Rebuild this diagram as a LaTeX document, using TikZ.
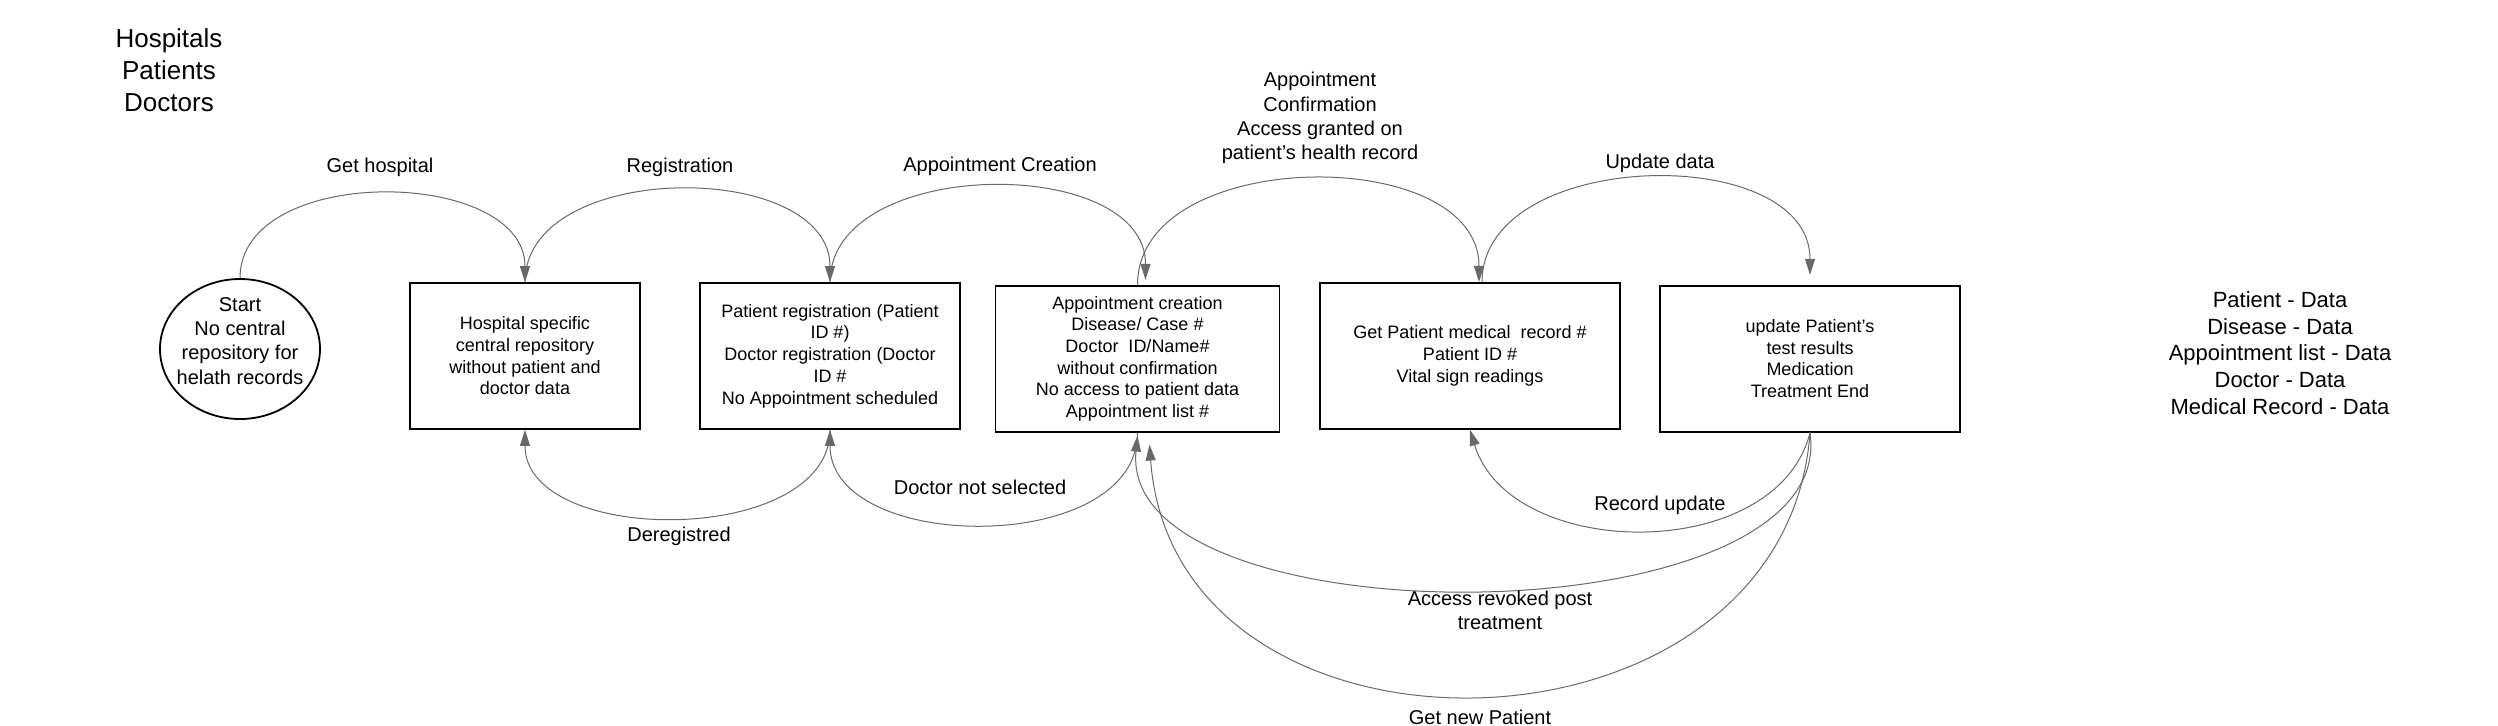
\documentclass[tikz,border=0pt]{standalone}
\usepackage{fontspec}
\setmainfont{Liberation Sans}
\usetikzlibrary{arrows.meta,shapes.geometric,calc}
\definecolor{linegray}{RGB}{105,105,105}
\begin{document}
\begin{tikzpicture}[x=0.5pt,y=-0.5pt,
  box/.style={draw=black, line width=0.9pt, inner sep=0pt, minimum height=73pt, align=center, font=\fontsize{9}{10.85}\selectfont},
  lbl/.style={align=center, inner sep=0pt, font=\fontsize{10}{12.1}\selectfont},
  conn/.style={draw=linegray, line width=0.5pt, -{Triangle[length=8pt,width=5pt]}}]
\useasboundingbox (0,0) rectangle (2498,725);

% header and legend
\node[align=center, inner sep=0pt, font=\fontsize{13}{16}\selectfont] (actors) at (169,70) {Hospitals\\Patients\\Doctors};
\node[align=center, inner sep=0pt, font=\fontsize{11}{13.3}\selectfont] (legend) at (2280,353) {Patient - Data\\Disease - Data\\Appointment list - Data\\Doctor - Data\\Medical Record - Data};

% nodes
\node[draw=black, ellipse, line width=0.9pt, minimum width=80pt, minimum height=70pt, inner sep=0pt] (e) at (240,349) {};
\node[lbl] (etext) at (240,341) {Start\\No central\\repository for\\helath records};
\node[box, minimum width=115pt] (b1) at (525,356) {Hospital specific\\central repository\\without patient and\\doctor data};
\node[box, minimum width=130pt] (b2) at (830,356) {Patient registration (Patient\\ID \#)\\Doctor registration (Doctor\\ID \#\\No Appointment scheduled};
\node[box, minimum width=142pt] (b3) at (1137.5,358.7) {Appointment creation\\Disease/ Case \#\\Doctor~~ID/Name\#\\without confirmation\\No access to patient data\\Appointment list \#};
\node[box, minimum width=150pt] (b4) at (1470,355.8) {Get Patient medical~~record \#\\Patient ID \#\\Vital sign readings};
\node[box, minimum width=150pt] (b5) at (1810,358.7) {update Patient's\\test results\\Medication\\Treatment End};

% top connectors
\draw[conn] (e.north) .. controls +(0,-115) and +(0,-115) .. (b1.north);
\draw[conn] (b1.north) .. controls +(0,-123) and +(0,-123) .. (b2.north);
\draw[conn] (b2.north) .. controls +(0,-126) and +(0,-126) .. ($(b3.north)+(8,-5)$);
\draw[conn] (b3.north) .. controls +(0,-139) and +(0,-139) .. ($(b4.north)+(9,0)$);
\draw[conn] ($(b4.north)+(12,0)$) .. controls +(0,-134) and +(0,-134) .. ($(b5.north)+(0,-10)$);

% bottom connectors
\draw[conn] (b2.south) .. controls +(0,117) and +(0,117) .. (b1.south);
\draw[conn] (b3.south) .. controls +(0,124) and +(0,124) .. (b2.south);
\draw[conn] (b5.south) .. controls +(-33,132) and +(40,132) .. (b4.south);
\draw[conn] (b5.south) .. controls +(30,208) and +(-20,208) .. ($(b3.south)+(0,3)$);
\draw[conn] (b5.south) .. controls +(-25,343) and +(25,343) .. ($(b3.south)+(12,12)$);

% connector labels
\node[lbl] (l1) at (380,167) {Get hospital};
\node[lbl] (l2) at (680,167) {Registration};
\node[lbl] (l3) at (1000,166) {Appointment Creation};
\node[lbl] (l4) at (1320,118) {Appointment\\Confirmation\\Access granted on\\patient's health record};
\node[lbl] (l5) at (1660,163) {Update data};
\node[lbl] (l6) at (679,536) {Deregistred};
\node[lbl] (l7) at (980,487) {Doctor not selected};
\node[lbl] (l8) at (1660,505) {Record update};
\node[lbl] (l9) at (1500,610) {Access revoked post\\treatment};
\node[lbl] (l10) at (1480,717) {Get new Patient};
\end{tikzpicture}
\end{document}
